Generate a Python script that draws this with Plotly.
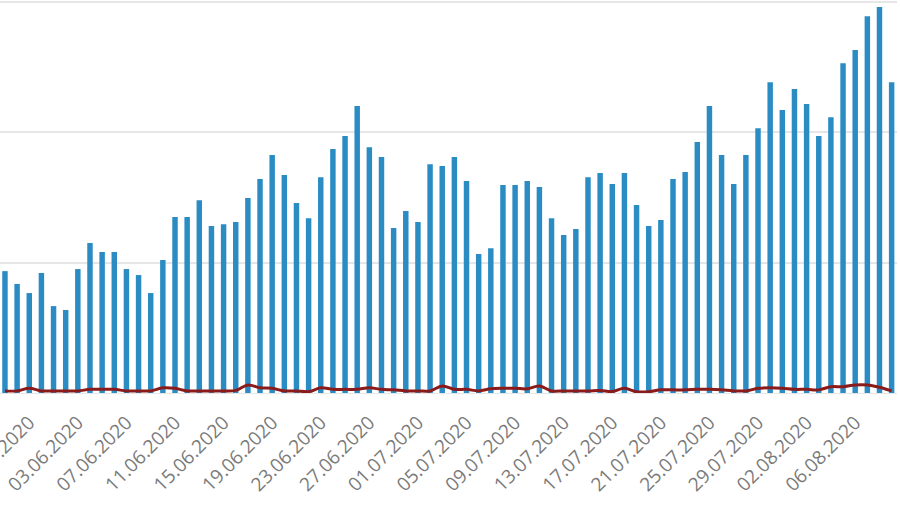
import pandas as pd
import plotly.graph_objects as go

# Daily values, 28.05.2020 - 09.08.2020
start_date = "2020-05-28"
cases = [467, 418, 383, 460, 333, 318, 475, 575, 540, 540,
         475, 452, 383, 510, 674, 674, 739, 640, 647, 655,
         747, 820, 912, 835, 728, 670, 827, 935, 985, 1100,
         942, 904, 632, 697, 655, 877, 870, 904, 812, 533,
         555, 797, 797, 812, 789, 670, 605, 628, 827, 843,
         801, 843, 720, 640, 663, 820, 847, 962, 1100, 912,
         801, 912, 1015, 1191, 1084, 1165, 1107, 985, 1057, 1264,
         1314, 1444, 1479, 1191]
deaths = [8, 8, 18, 8, 8, 8, 8, 14, 14, 14,
          8, 8, 8, 20, 18, 8, 8, 8, 8, 10,
          31, 20, 18, 8, 8, 5, 20, 14, 14, 14,
          20, 14, 12, 8, 8, 8, 27, 14, 14, 8,
          16, 18, 18, 16, 27, 8, 8, 8, 8, 10,
          6, 18, 5, 5, 12, 12, 12, 14, 14, 12,
          8, 8, 18, 20, 18, 14, 14, 12, 24, 24,
          31, 31, 22, 8]

dates = pd.date_range(start_date, periods=len(cases), freq="D")

fig = go.Figure()

fig.add_trace(go.Bar(x=dates, y=cases, name="cases",
                     marker_color="#2b8cc4", marker_line_width=0))

fig.add_trace(go.Scatter(x=dates, y=deaths, mode="lines", name="deaths",
                         line=dict(color="#8b1a1a", width=3, shape="spline")))

x_start = dates[0] - pd.Timedelta(hours=9.8)
x_end = dates[-1] + pd.Timedelta(hours=10.6)

fig.update_layout(
    width=900, height=505,
    margin=dict(l=0, r=3, t=0, b=112),
    plot_bgcolor="white", paper_bgcolor="white",
    showlegend=False,
    bargap=0.55,
    font=dict(family="Open Sans", color="#7a7a7a", size=19),
)

fig.update_xaxes(
    type="date", automargin=False,
    range=[x_start, x_end],
    tick0="2020-05-30", dtick=4 * 86400000,
    tickformat="%d.%m.%Y", tickangle=-45,
    ticks="outside", ticklen=10, tickcolor="rgba(0,0,0,0)",
    ticklabeloverflow="allow",
    showgrid=False, showline=False, zeroline=False,
)

fig.update_yaxes(
    automargin=False,
    range=[0, 1506], dtick=500,
    showticklabels=False,
    gridcolor="#e6e6e6", gridwidth=1.5,
    zeroline=True, zerolinecolor="#e6e6e6", zerolinewidth=1,
)

# page body has a default 8px margin; drop it so the figure sits at the corner
fig.write_html("out.html", config={"displayModeBar": False},
               post_script="document.body.style.margin='0';")
